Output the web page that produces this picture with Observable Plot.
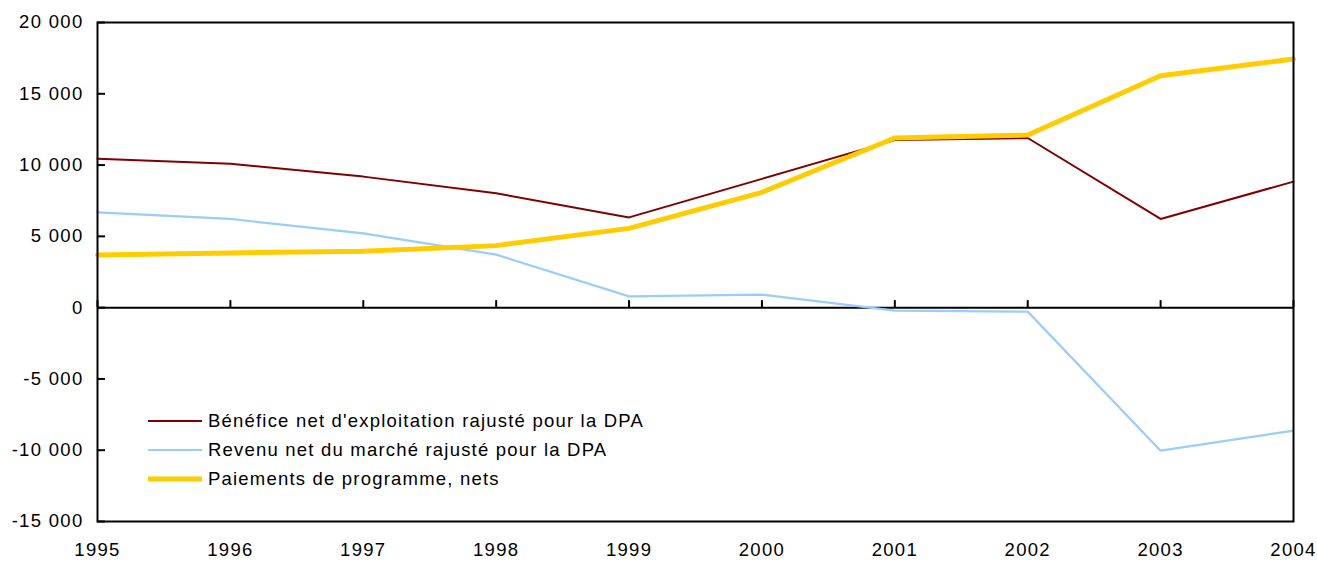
<!DOCTYPE html>
<html><head><meta charset="utf-8">
<script src="https://cdn.jsdelivr.net/npm/d3@7"></script>
<script src="https://cdn.jsdelivr.net/npm/@observablehq/plot@0.6"></script>
<style>
body{margin:0;background:#fff;font-family:"Liberation Sans",Arial,sans-serif}
#wrap{position:relative;width:1317px;height:561px}
#legend{position:absolute;left:148px;top:406px;font-size:18.5px;letter-spacing:1.2px;color:#000}
#legend .row{display:flex;align-items:center;height:29px}
#legend .sw{width:54px;margin-right:6px}
</style></head><body><div id="wrap"><div id="legend"></div></div>
<script>
const years = [1995, 1996, 1997, 1998, 1999, 2000, 2001, 2002, 2003, 2004];
const benefice = [10450, 10100, 9190, 8020, 6330, 9030, 11750, 11900, 6220, 8840];
const revenu = [6680, 6220, 5210, 3720, 790, 910, -210, -280, -10030, -8630];
const paiements = [3700, 3840, 3950, 4350, 5560, 8090, 11900, 12110, 16270, 17440];
const seriesNames = ["Bénéfice net d'exploitation rajusté pour la DPA", "Revenu net du marché rajusté pour la DPA", "Paiements de programme, nets"];
const seriesColors = ["#800000", "#99ccff", "#ffcc00"];
const seriesWidths = [2, 2.2, 5];
const yTicks = [-15000, -10000, -5000, 0, 5000, 10000, 15000, 20000];

const allSeries = [benefice, revenu, paiements];
const fmt = d3.formatLocale({decimal: ",", thousands: " ", grouping: [3], currency: ["", ""], minus: "-"}).format(",");

const lineMarks = allSeries.map((vals, s) =>
  Plot.line(years.map((y, i) => ({year: y, value: vals[i]})), {
    x: "year", y: "value", stroke: seriesColors[s], strokeWidth: seriesWidths[s], strokeLinejoin: "miter"
  })
);

const chart = Plot.plot({
  width: 1317, height: 561,
  marginLeft: 97, marginRight: 24, marginTop: 22, marginBottom: 40,
  style: {fontFamily: '"Liberation Sans", Arial, sans-serif', fontSize: "18.5px", letterSpacing: "1.3px", color: "#000", background: "#fff"},
  x: {domain: [1995, 2004], label: null},
  y: {domain: [-15000, 20000], label: null},
  marks: [
    Plot.axisX({ticks: years, tickFormat: d => String(d), tickSize: 0, tickPadding: 21, fontSize: 18.5, label: null}),
    Plot.axisY({ticks: yTicks, tickFormat: fmt, tickSize: 0, tickPadding: 14, fontSize: 18.5, label: null}),
    Plot.ruleY(yTicks, {y: d => d, x1: 1995, x2: 1995, insetRight: -8, stroke: "#000", strokeWidth: 2}),
    Plot.ruleX(years, {x: d => d, y1: 0, y2: 0, insetBottom: 7, stroke: "#000", strokeWidth: 2}),
    Plot.ruleY([0], {stroke: "#000", strokeWidth: 2}),
    ...lineMarks,
    Plot.frame({stroke: "#000", strokeWidth: 2})
  ]
});
document.getElementById("wrap").prepend(chart);

const legend = document.getElementById("legend");
seriesNames.forEach((name, s) => {
  const row = document.createElement("div");
  row.className = "row";
  row.innerHTML = `<svg class="sw" width="54" height="10"><line x1="0" x2="54" y1="5" y2="5" stroke="${seriesColors[s]}" stroke-width="${seriesWidths[s]}"/></svg><span>${name}</span>`;
  legend.appendChild(row);
});
</script>
</body></html>
